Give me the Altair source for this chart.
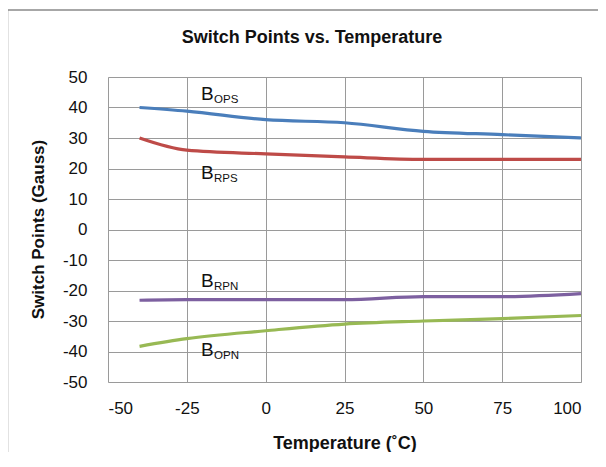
import altair as alt
import pandas as pd

temps = [-40, -25, 0, 25, 50, 75, 100]
b_ops = [40, 38.8, 36, 35, 32.2, 31.1, 30]
b_rps = [30, 26, 24.8, 23.8, 23, 23, 23]
b_rpn = [-23.2, -23, -23, -23, -22, -22, -21]
b_opn = [-38.3, -35.8, -33.2, -31, -30, -29.2, -28.2]
series = ["OPS", "RPS", "RPN", "OPN"]
colors = ["#4A7EBB", "#BE4B48", "#7D60A0", "#98B954"]

label_x = [-20.5, -20.5, -20.5, -20.5]
label_y = [44.5, 18.6, -17.0, -39.6]
title_text = ["Switch Points vs. Temperature"]
x_ticks = [-50, -25, 0, 25, 50, 75, 100]
y_ticks = [-50, -40, -30, -20, -10, 0, 10, 20, 30, 40, 50]

rows = []
for name, vals in zip(series, [b_ops, b_rps, b_rpn, b_opn]):
    for t, v in zip(temps, vals):
        rows.append({"series": name, "t": t, "v": v})
df = pd.DataFrame(rows)
labels = pd.DataFrame({"series": series, "t": label_x, "v": label_y, "B": ["B"] * 4})
tdf = pd.DataFrame({"title": title_text})

FONT = "Liberation Sans"

xs = alt.Scale(domain=[-50, 100], nice=False)
ys = alt.Scale(domain=[-50, 50], nice=False)

xaxis = alt.Axis(
    values=x_ticks, title="Temperature (˚C)",
    labelExpr="'' + datum.value", labelOverlap=False,
    grid=True, gridColor="#9a9a9a", gridWidth=1, domain=False, ticks=False,
    labelFont=FONT, labelFontSize=17, labelColor="#111", labelPadding=18,
    titleFont=FONT, titleFontSize=18, titleFontWeight="bold", titleColor="#111",
    titleY=61, titleBaseline="middle")
yaxis = alt.Axis(
    values=y_ticks, title="Switch Points (Gauss)",
    labelExpr="'' + datum.value", labelOverlap=False,
    grid=True, gridColor="#9a9a9a", gridWidth=1, domain=False, ticks=False,
    labelFont=FONT, labelFontSize=17, labelColor="#111", labelPadding=21,
    titleFont=FONT, titleFontSize=17, titleFontWeight="bold", titleColor="#111",
    titleX=-70, titleY=152, titleAngle=-90, titleAlign="center", titleBaseline="middle")

lines = alt.Chart(df).mark_line(strokeWidth=3.2, interpolate="monotone").encode(
    x=alt.X("t:Q", scale=xs, axis=xaxis),
    y=alt.Y("v:Q", scale=ys, axis=yaxis),
    color=alt.Color("series:N", scale=alt.Scale(domain=series, range=colors), legend=None),
    detail="series:N",
)

btext = alt.Chart(labels).mark_text(align="left", baseline="middle", fontSize=19,
                                      font="Liberation Sans", color="#111").encode(
    x=alt.X("t:Q", scale=xs, axis=xaxis), y=alt.Y("v:Q", scale=ys, axis=yaxis), text="B:N")
subtext = alt.Chart(labels).mark_text(align="left", baseline="middle", fontSize=11.5,
                                        font="Liberation Sans", color="#111", dx=13, dy=6).encode(
    x=alt.X("t:Q", scale=xs, axis=xaxis), y=alt.Y("v:Q", scale=ys, axis=yaxis), text="series:N")

title = alt.Chart(tdf).mark_text(align="center", baseline="middle", fontSize=18,
                                   fontWeight="bold", font=FONT, color="#111").encode(
    x=alt.value(204), y=alt.value(-39), text="title:N")

frame_left = alt.Chart(tdf).mark_rule(color="#8a8a8a", strokeWidth=1.5).encode(
    x=alt.value(-100.5), y=alt.value(-67), y2=alt.value(400))
frame_top = alt.Chart(tdf).mark_rule(color="#8a8a8a", strokeWidth=1.5).encode(
    y=alt.value(-67), x=alt.value(-100.5), x2=alt.value(500))

chart = alt.layer(lines, btext, subtext, title, frame_left, frame_top).properties(
    width=473, height=305,
    autosize=alt.AutoSizeParams(type="none"),
    padding={"left": 100, "top": 69, "right": 17, "bottom": 70},
).configure_view(stroke="#9a9a9a", strokeWidth=1).configure(background="white")

chart.save("out.html", embed_options={"renderer": "svg", "actions": False})
